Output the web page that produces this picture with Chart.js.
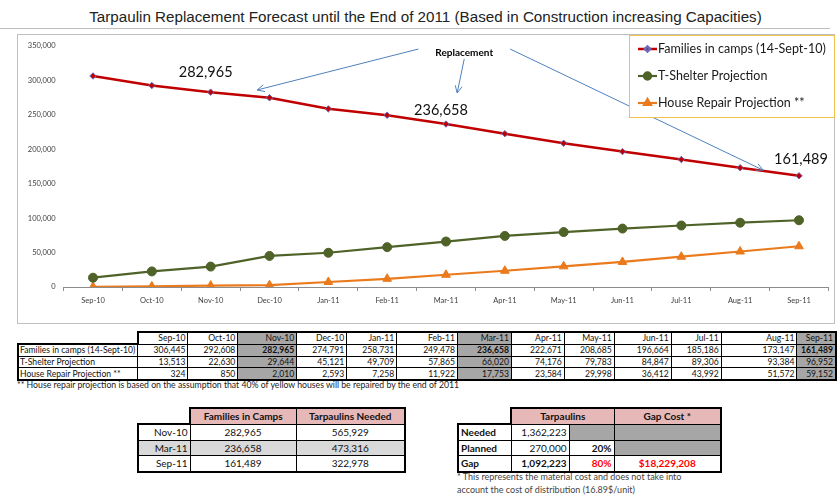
<!DOCTYPE html>
<html>
<head>
<meta charset="utf-8">
<script src="https://cdn.jsdelivr.net/npm/chart.js@4/dist/chart.umd.min.js"></script>
<style>
  html, body { margin:0; padding:0; background:#fff; width:837px; height:497px; overflow:hidden; }
  #title { position:absolute; left:0; top:8px; width:851px; text-align:center; white-space:nowrap;
    font-family:"Liberation Sans",Arial,sans-serif; font-size:15.2px; color:#222; }
  #titleLine { position:absolute; left:0; top:28px; width:830px; height:1px; background:#bdbdbd; }
  #chartBox { position:absolute; left:17px; top:34px; width:816px; height:288px; border:1px solid #bfbfbf; }
  #wrap { position:absolute; left:0; top:0; width:837px; height:325px; }
  table { border-collapse:collapse; table-layout:fixed; font-family:Lato,"Open Sans",sans-serif; color:#111; position:absolute; }
  td { border:1px solid #000; padding:0 2px; white-space:nowrap; overflow:hidden; }
  #t1 { left:17px; top:331px; font-size:8.6px; }
  #t1 td { height:10.6px; line-height:10px; text-align:right; }
  #t1 td.lab { text-align:left; padding-left:1px; }
  .g { background:#a6a6a6; }
  .b { font-weight:bold; }
  #note1 { position:absolute; left:17px; top:379px; font-family:Lato,sans-serif; font-size:8.7px; color:#222; white-space:nowrap; }
  #t2 { left:137px; top:407px; font-size:10px; }
  #t2 td, #t3 td { height:14.5px; line-height:14px; }
  #t3 { left:457px; top:407px; font-size:10px; }
  .hdr { background:#e6b8b7; font-weight:bold; text-align:center; }
  .lg { background:#d9d9d9; }
  .red { color:#ff0000; }
  #note3 { position:absolute; left:457px; top:470px; font-family:Lato,sans-serif; font-size:9px; color:#444; line-height:13px; white-space:nowrap; }
</style>
</head>
<body>
<div id="chartBox"></div>
<div id="titleLine"></div>
<div id="title">Tarpaulin Replacement Forecast until the End of 2011 (Based in Construction increasing Capacities)</div>
<div id="wrap"><canvas id="c" width="837" height="325"></canvas></div>

<table id="t1"></table>
<div id="note1">** House repair projection is based on the assumption that 40% of yellow houses will be repaired by the end of 2011</div>

<table id="t2"></table>
<table id="t3">
  <colgroup><col style="width:53px"><col style="width:58px"><col style="width:45px"><col style="width:107px"></colgroup>
  <tr><td style="border:none;border-right:2px solid #000;border-bottom:2px solid #000"></td>
      <td class="hdr" colspan="2" style="border-top:2px solid #000">Tarpaulins</td>
      <td class="hdr" style="border-top:2px solid #000;border-right:2px solid #000">Gap Cost *</td></tr>
  <tr><td class="b" style="border-left:2px solid #000;text-align:left">Needed</td>
      <td style="text-align:right" id="neededCell"></td><td class="g"></td><td class="g" style="border-right:2px solid #000"></td></tr>
  <tr><td class="b" style="border-left:2px solid #000;text-align:left">Planned</td>
      <td style="text-align:right" id="plannedCell"></td><td class="b" style="text-align:right" id="plannedPct"></td><td class="g" style="border-right:2px solid #000"></td></tr>
  <tr><td class="b" style="border-left:2px solid #000;border-bottom:2px solid #000;text-align:left">Gap</td>
      <td class="b" style="text-align:right;border-bottom:2px solid #000" id="gapCell"></td>
      <td class="b red" style="text-align:right;border-bottom:2px solid #000" id="gapPct"></td>
      <td class="b red" style="text-align:center;border-bottom:2px solid #000;border-right:2px solid #000" id="gapCost"></td></tr>
</table>
<div id="note3">* This represents the material cost and does not take into<br>account the cost of distribution (16.89$/unit)</div>

<script>
// ---------- data ----------
const categories = ['Sep-10','Oct-10','Nov-10','Dec-10','Jan-11','Feb-11','Mar-11','Apr-11','May-11','Jun-11','Jul-11','Aug-11','Sep-11'];
const familiesInCamps = [306445, 292608, 282965, 274791, 258731, 249478, 236658, 222671, 208685, 196664, 185186, 173147, 161489];
const tShelterProjection = [13513, 22630, 29644, 45121, 49709, 57865, 66020, 74176, 79783, 84847, 89306, 93384, 96952];
const houseRepairProjection = [324, 850, 2010, 2593, 7258, 11922, 17753, 23584, 29998, 36412, 43992, 51572, 59152];
const seriesNames = ['Families in camps (14-Sept-10)', 'T-Shelter Projection', 'House Repair Projection **'];
const yTickValues = [0, 50000, 100000, 150000, 200000, 250000, 300000, 350000];
const highlightCategories = ['Nov-10', 'Mar-11', 'Sep-11'];
const campMonths = ['Nov-10', 'Mar-11', 'Sep-11'];
const campFamilies = [282965, 236658, 161489];
const tarpaulinsNeeded = [565929, 473316, 322978];
const tarpNeededTotal = 1362223;
const tarpPlanned = 270000;
const tarpPlannedPct = '20%';
const tarpGap = 1092223;
const tarpGapPct = '80%';
const gapCost = '$18,229,208';

const fmt = v => v.toLocaleString('en-US');

// ---------- table 1 ----------
(function(){
  const t = document.getElementById('t1');
  const widths = [120,50,50,59,50,50,61,54,53,50,57,50,76,39];
  let cg = '<colgroup>' + widths.map(w => '<col style="width:' + w + 'px">').join('') + '</colgroup>';
  const last = categories.length - 1;
  let h = '<tr><td style="border:none;border-bottom:2px solid #000;border-right:2px solid #000"></td>';
  categories.forEach((c, i) => {
    const g = highlightCategories.includes(c) ? ' g' : '';
    h += '<td class="' + g + '" style="border-top:2px solid #000' + (i === last ? ';border-right:2px solid #000' : '') + '">' + c + '</td>';
  });
  h += '</tr>';
  const rows = [familiesInCamps, tShelterProjection, houseRepairProjection];
  rows.forEach((r, ri) => {
    const bb = ri === rows.length - 1 ? ';border-bottom:2px solid #000' : '';
    h += '<tr><td class="lab" style="border-left:2px solid #000' + bb + '">' + seriesNames[ri] + '</td>';
    r.forEach((v, i) => {
      const hl = highlightCategories.includes(categories[i]);
      const cls = (hl ? 'g' : '') + (hl && ri === 0 ? ' b' : '');
      h += '<td class="' + cls + '" style="' + bb.slice(1) + (i === last ? ';border-right:2px solid #000' : '') + '">' + fmt(v) + '</td>';
    });
    h += '</tr>';
  });
  t.innerHTML = cg + h;
})();

// ---------- table 2 ----------
(function(){
  const t = document.getElementById('t2');
  let h = '<colgroup><col style="width:52px"><col style="width:106px"><col style="width:109px"></colgroup>';
  h += '<tr><td style="border:none;border-right:2px solid #000;border-bottom:2px solid #000"></td>' +
       '<td class="hdr" style="border-top:2px solid #000">Families in Camps</td>' +
       '<td class="hdr" style="border-top:2px solid #000;border-right:2px solid #000">Tarpaulins Needed</td></tr>';
  campMonths.forEach((m, i) => {
    const bb = i === campMonths.length - 1 ? 'border-bottom:2px solid #000;' : '';
    const bg = i === 1 ? ' class="lg"' : '';
    h += '<tr' + bg + '><td style="border-left:2px solid #000;text-align:right;' + bb + '">' + m + '</td>' +
         '<td style="text-align:center;' + bb + '">' + fmt(campFamilies[i]) + '</td>' +
         '<td style="text-align:center;border-right:2px solid #000;' + bb + '">' + fmt(tarpaulinsNeeded[i]) + '</td></tr>';
  });
  t.innerHTML = h;
})();

// ---------- table 3 ----------
document.getElementById('neededCell').textContent = fmt(tarpNeededTotal);
document.getElementById('plannedCell').textContent = fmt(tarpPlanned);
document.getElementById('plannedPct').textContent = tarpPlannedPct;
document.getElementById('gapCell').textContent = fmt(tarpGap);
document.getElementById('gapPct').textContent = tarpGapPct;
document.getElementById('gapCost').textContent = gapCost;

// ---------- chart ----------
const annotationLabels = [
  { idx: 2, value: 282965, dx: -5, dy: -20, text: '282,965' },
  { idx: 6, value: 236658, dx: -5, dy: -14, text: '236,658' },
  { idx: 12, value: 161489, dx: 2, dy: -16, text: '161,489' }
];
const replacementLabel = { x: 6.31, y: 339800, text: 'Replacement' };
const arrows = [
  { from: [5.53, 345600], to: [2.79, 286100] },
  { from: [6.31, 331100], to: [6.19, 281700] },
  { from: [7.09, 345600], to: [11.39, 169700] }
];

const annotationPlugin = {
  id: 'annot',
  afterDatasetsDraw(chart) {
    const ctx = chart.ctx, xs = chart.scales.x, ys = chart.scales.y;
    ctx.save();
    ctx.strokeStyle = '#4f81bd'; ctx.lineWidth = 1;
    arrows.forEach(a => {
      const x1 = xs.getPixelForValue(a.from[0]), y1 = ys.getPixelForValue(a.from[1]);
      const x2 = xs.getPixelForValue(a.to[0]), y2 = ys.getPixelForValue(a.to[1]);
      ctx.beginPath(); ctx.moveTo(x1, y1); ctx.lineTo(x2, y2); ctx.stroke();
      const ang = Math.atan2(y2 - y1, x2 - x1), L = 8, w = 0.45;
      ctx.beginPath();
      ctx.moveTo(x2 - L * Math.cos(ang - w), y2 - L * Math.sin(ang - w));
      ctx.lineTo(x2, y2);
      ctx.lineTo(x2 - L * Math.cos(ang + w), y2 - L * Math.sin(ang + w));
      ctx.stroke();
    });
    ctx.fillStyle = '#000'; ctx.textAlign = 'center'; ctx.textBaseline = 'middle';
    ctx.font = 'bold 10px Lato, sans-serif';
    ctx.fillText(replacementLabel.text, xs.getPixelForValue(replacementLabel.x), ys.getPixelForValue(replacementLabel.y));
    ctx.font = '14.5px Lato, sans-serif'; ctx.fillStyle = '#111';
    annotationLabels.forEach(l => {
      ctx.fillText(l.text, xs.getPixelForValue(l.idx) + l.dx, ys.getPixelForValue(l.value) + l.dy);
    });
    ctx.restore();
  },
  afterDraw(chart) {
    const ctx = chart.ctx;
    ctx.save();
    const bx = 629.5, by = 35.5, bw = 205, bh = 82;
    ctx.fillStyle = '#fff'; ctx.fillRect(bx, by, bw, bh);
    ctx.strokeStyle = '#f2c14e'; ctx.lineWidth = 1; ctx.strokeRect(bx, by, bw, bh);
    const ys = [49, 76, 103];
    chart.data.datasets.forEach((ds, i) => {
      const y = ys[i];
      ctx.strokeStyle = ds.borderColor; ctx.lineWidth = ds.borderWidth;
      ctx.beginPath(); ctx.moveTo(638, y); ctx.lineTo(657, y); ctx.stroke();
      ctx.fillStyle = ds.pointBackgroundColor; ctx.strokeStyle = ds.pointBorderColor;
      Chart.helpers.drawPoint(ctx, { pointStyle: ds.pointStyle, radius: ds.pointRadius * 0.8, borderWidth: ds.pointBorderWidth, rotation: 0 }, 647.5, y);
      ctx.fillStyle = '#1a1a1a'; ctx.font = '12.5px Lato, sans-serif';
      ctx.textAlign = 'left'; ctx.textBaseline = 'middle';
      ctx.fillText(ds.label, 658, y);
    });
    ctx.restore();
  }
};

new Chart(document.getElementById('c'), {
  type: 'line',
  data: {
    labels: categories,
    datasets: [
      { label: seriesNames[0], data: familiesInCamps, borderColor: '#c00000', borderWidth: 2.5,
        pointStyle: 'rectRot', pointRadius: 3.2, pointBackgroundColor: '#c00000', pointBorderColor: '#6a6ab8', pointBorderWidth: 1, tension: 0 },
      { label: seriesNames[1], data: tShelterProjection, borderColor: '#4f6228', borderWidth: 2.2,
        pointStyle: 'circle', pointRadius: 4.5, pointBackgroundColor: '#4f6228', pointBorderColor: '#4f6228', pointBorderWidth: 1, tension: 0 },
      { label: seriesNames[2], data: houseRepairProjection, borderColor: '#ea7a1c', borderWidth: 2.2,
        pointStyle: 'triangle', pointRadius: 5, pointBackgroundColor: '#ea7a1c', pointBorderColor: '#ea7a1c', pointBorderWidth: 1, tension: 0 }
    ]
  },
  options: {
    responsive: false, animation: false, devicePixelRatio: 1,
    layout: { padding: { left: 17, top: 46, right: 8.6, bottom: 2 } },
    plugins: { legend: { display: false }, tooltip: { enabled: false }, title: { display: false } },
    scales: {
      x: {
        offset: true,
        grid: { display: true, drawOnChartArea: false, drawTicks: true, tickLength: 4, color: '#8c8c8c', offset: true },
        border: { display: true, color: '#8c8c8c', width: 1 },
        ticks: { font: { family: 'Lato, sans-serif', size: 7.5 }, color: '#404040', padding: 5, maxRotation: 0, autoSkip: false },
        afterFit: s => { s.height = 36; }
      },
      y: {
        min: 0, max: 350000,
        afterBuildTicks: s => { s.ticks = yTickValues.map(v => ({ value: v })); },
        grid: { display: false, drawTicks: false },
        border: { display: false },
        ticks: { font: { family: 'Lato, sans-serif', size: 7.5 }, color: '#404040', padding: 8, callback: v => fmt(v) },
        afterFit: s => { s.width = 46.6; }
      }
    }
  },
  plugins: [annotationPlugin]
});
</script>
</body>
</html>
